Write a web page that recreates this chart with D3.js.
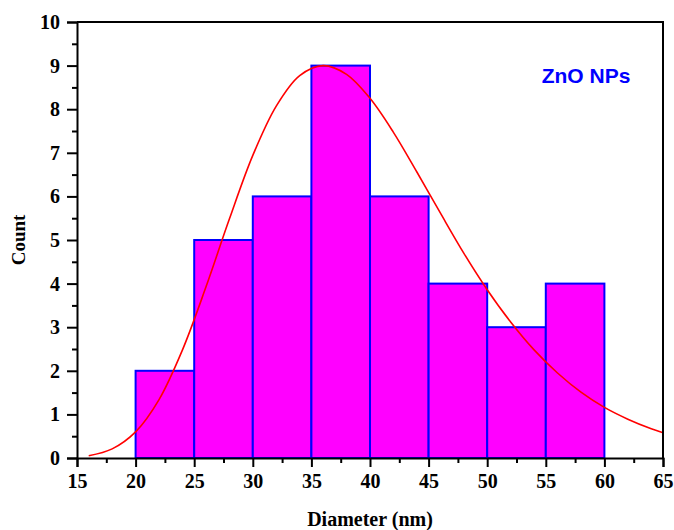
<!DOCTYPE html>
<html>
<head>
<meta charset="utf-8">
<script src="https://cdn.jsdelivr.net/npm/d3@7"></script>
<style>
  html, body { margin: 0; padding: 0; background: #fff; }
  svg { display: block; }
</style>
</head>
<body>
<script>
// ---- data ----
const binStarts = [20, 25, 30, 35, 40, 45, 50, 55];
const binWidth = 5;
const counts = [2, 5, 6, 9, 6, 4, 3, 4];
const fitX = [16, 18, 20, 22, 24, 26, 28, 30, 32, 34, 36, 38, 40, 42, 44, 46, 48, 50, 52, 54, 56, 58, 60, 62, 64, 65];
const fitY = [0.05, 0.21, 0.60, 1.34, 2.48, 3.92, 5.48, 6.94, 8.07, 8.77, 9.0, 8.80, 8.25, 7.47, 6.56, 5.62, 4.70, 3.86, 3.12, 2.48, 1.95, 1.51, 1.16, 0.89, 0.67, 0.58];
const xTicks = [15, 20, 25, 30, 35, 40, 45, 50, 55, 60, 65];
const yTicks = [0, 1, 2, 3, 4, 5, 6, 7, 8, 9, 10];
const xTitle = "Diameter (nm)";
const yTitle = "Count";
const label = "ZnO NPs";

const W = 674, H = 530;
const m = { left: 77, right: 11, top: 22, bottom: 72 };
const svg = d3.select("body").append("svg").attr("width", W).attr("height", H);

const x = d3.scaleLinear().domain([15, 65]).range([m.left, W - m.right]);
const y = d3.scaleLinear().domain([0, 10]).range([H - m.bottom, m.top]);

// bars
svg.append("g").selectAll("rect").data(binStarts).join("rect")
  .attr("x", (d) => x(d))
  .attr("width", (d) => x(d + binWidth) - x(d))
  .attr("y", (d, i) => y(counts[i]))
  .attr("height", (d, i) => y(0) - y(counts[i]))
  .attr("fill", "#ff00ff")
  .attr("stroke", "#0000ff")
  .attr("stroke-width", 2);

// fit curve
const pts = fitX.map((d, i) => [d, fitY[i]]);
svg.append("path").datum(pts)
  .attr("fill", "none")
  .attr("stroke", "#ff0000")
  .attr("stroke-width", 1.6)
  .attr("d", d3.line().x(d => x(d[0])).y(d => y(d[1])).curve(d3.curveCatmullRom.alpha(0.5)));

// frame (top, right)
svg.append("path")
  .attr("d", `M${x(15)},${y(10)}H${x(65)}V${y(0)}`)
  .attr("fill", "none").attr("stroke", "#000").attr("stroke-width", 2);

const fontSerif = "'Liberation Serif', 'Times New Roman', serif";

// x axis
const xAxis = svg.append("g").attr("transform", `translate(0,${y(0)})`)
  .call(d3.axisBottom(x).tickValues(xTicks).tickSize(9).tickPadding(7).tickFormat(d3.format("d")));
const xMinor = svg.append("g").attr("transform", `translate(0,${y(0)})`)
  .call(d3.axisBottom(x).tickValues(xTicks.slice(0, -1).map(d => d + 2.5)).tickSize(5).tickFormat(""));
xMinor.select(".domain").remove();

// y axis
const yAxis = svg.append("g").attr("transform", `translate(${x(15)},0)`)
  .call(d3.axisLeft(y).tickValues(yTicks).tickSize(10).tickPadding(7).tickFormat(d3.format("d")));
const yMinor = svg.append("g").attr("transform", `translate(${x(15)},0)`)
  .call(d3.axisLeft(y).tickValues(yTicks.slice(0, -1).map(d => d + 0.5)).tickSize(5).tickFormat(""));
yMinor.select(".domain").remove();

[xAxis, yAxis, xMinor, yMinor].forEach(g => {
  g.selectAll("line").attr("stroke", "#000").attr("stroke-width", 2);
  g.selectAll(".domain").attr("stroke", "#000").attr("stroke-width", 2);
  g.selectAll("text").attr("fill", "#000")
    .style("font-family", fontSerif).style("font-weight", "bold").style("font-size", "20px");
});

// titles
svg.append("text")
  .attr("x", (x(15) + x(65)) / 2).attr("y", 526)
  .attr("text-anchor", "middle")
  .style("font-family", fontSerif).style("font-weight", "bold").style("font-size", "20px")
  .text(xTitle);

svg.append("text")
  .attr("transform", `translate(25,${(y(0) + y(10)) / 2}) rotate(-90)`)
  .attr("text-anchor", "middle")
  .style("font-family", fontSerif).style("font-weight", "bold").style("font-size", "19px")
  .text(yTitle);

svg.append("text")
  .attr("x", 586).attr("y", 83)
  .attr("text-anchor", "middle")
  .attr("fill", "#0000ff")
  .style("font-family", "'Liberation Sans', Arial, sans-serif").style("font-weight", "bold").style("font-size", "21px")
  .text(label);
</script>
</body>
</html>
